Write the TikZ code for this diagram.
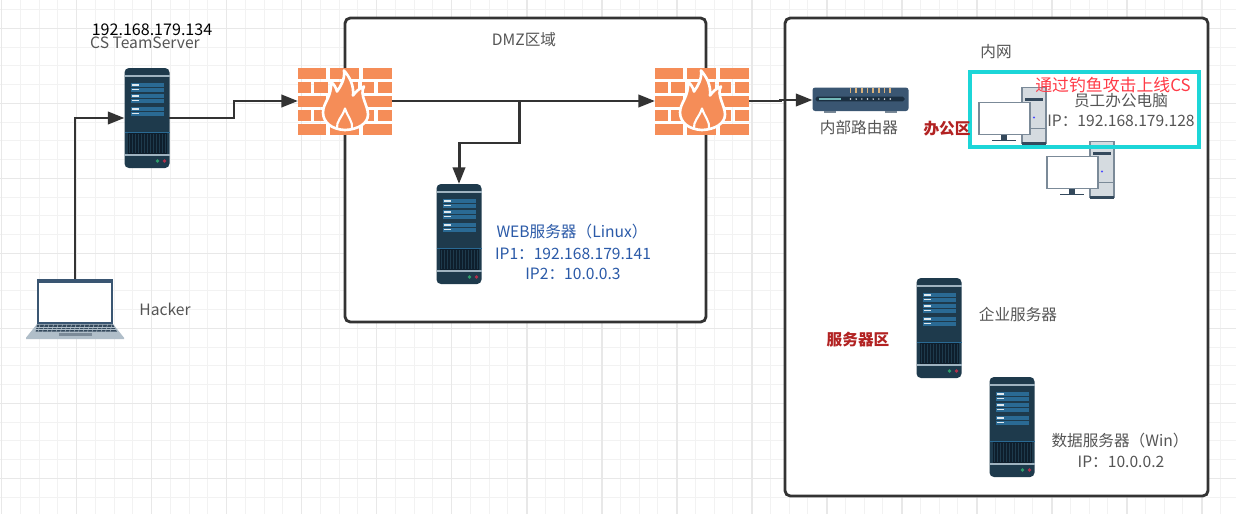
\documentclass[tikz,border=0pt]{standalone}
\usepackage{fontspec}
\usepackage{xcolor}
\usetikzlibrary{positioning}
\usetikzlibrary{arrows.meta}
\setmainfont{Noto Sans CJK SC}

\definecolor{gridmajor}{HTML}{E8E8E8}
\definecolor{gridminor}{HTML}{F2F2F2}
\definecolor{linedark}{HTML}{333333}
\definecolor{lblgray}{HTML}{555555}
\definecolor{lblblue}{HTML}{2B5AA8}
\definecolor{lblred}{HTML}{B22222}
\definecolor{hintred}{HTML}{FF3B47}
\definecolor{boxcyan}{HTML}{1CD6D8}
\definecolor{srvbody}{HTML}{1E3A4C}
\definecolor{srvstripe}{HTML}{2A6A94}
\definecolor{srvvent}{HTML}{0E1E2C}
\definecolor{srvedge}{HTML}{9FB3C0}
\definecolor{ledgreen}{HTML}{2E9E6B}
\definecolor{ledred}{HTML}{B0304A}
\definecolor{brick}{HTML}{F58D58}
\definecolor{pcgray}{HTML}{D5DBE0}
\definecolor{pcdark}{HTML}{34495C}
\definecolor{pcframe}{HTML}{7B8A98}
\definecolor{routerbody}{HTML}{3A5672}
\definecolor{routerled}{HTML}{D9B07A}
\definecolor{laptopbase}{HTML}{B0BEC9}

\tikzset{
	iconbox/.style={inner sep=0pt, outer sep=0pt},
	zonebox/.style={draw=linedark, fill=white, line width=1.6pt, rounded corners=3pt},
	conn/.style={draw=linedark, line width=1.7pt, -{Triangle[length=9.5pt,width=7pt]}},
	lbl/.style={font=\fontsize{8.9pt}{10pt}\selectfont, text=lblgray, inner sep=0pt},
	lblb/.style={lbl, text=lblblue},
	zonename/.style={font=\fontsize{8.9pt}{10pt}\selectfont\bfseries, text=lblred, inner sep=0pt},
	serverpic/.pic={
		\fill[srvbody, rounded corners=2.5pt] (0,0) rectangle (45,100);
		\draw[srvedge, line width=0.8pt] (0,8) -- (45,8) (0,87) -- (45,87);
		\draw[srvstripe, line width=0.5pt] (0,64) -- (45,64);
		\foreach \ya in {15,26,39} {
			\fill[srvstripe] (6.7,\ya) rectangle (39,\ya+9);
			\draw[white!85!srvstripe, line width=0.6pt] (7,\ya+2) -- (14,\ya+2) (7,\ya+6.5) -- (14,\ya+6.5);
			\draw[srvbody, line width=0.3pt] (6.7,\ya+4.5) -- (39,\ya+4.5);
		}
		\fill[srvvent] (3,65) rectangle (42,86);
		\foreach \xa in {5,8,...,41} {
			\draw[srvbody, line width=0.5pt] (\xa,66) -- (\xa,85);
		}
		\fill[ledgreen] (33,93) circle (1.9);
		\fill[ledred] (40,93) circle (1.9);
	},
	firewallpic/.pic={
		\foreach \ya in {0,28,56} {
			\fill[brick] (0,\ya) rectangle (28,\ya+11);
			\fill[brick] (32,\ya) rectangle (61,\ya+11);
			\fill[brick] (65,\ya) rectangle (94,\ya+11);
		}
		\foreach \ya in {14,42} {
			\fill[brick] (0,\ya) rectangle (12.5,\ya+11);
			\fill[brick] (16,\ya) rectangle (30,\ya+11);
			\fill[brick] (34,\ya) rectangle (60,\ya+11);
			\fill[brick] (64,\ya) rectangle (76,\ya+11);
			\fill[brick] (80,\ya) rectangle (94,\ya+11);
		}
		% flame with a white rim
		\draw[white, fill=brick, line width=1.5pt, line join=round]
			(47,62.5) .. controls (34,62) and (25,55) .. (25,45)
			.. controls (25,35) and (34,30) .. (33,14)
			.. controls (36,17) and (38,20) .. (39,24)
			.. controls (43,18) and (47,12) .. (46,3)
			.. controls (52,10) and (56,18) .. (55,28)
			.. controls (58,24) and (61,21) .. (66,19)
			.. controls (61,27) and (70,38) .. (70,47)
			.. controls (70,56) and (60,62) .. (47,62.5) -- cycle;
		\draw[white, line width=1.2pt, line join=round]
			(39,61) .. controls (38,54) and (44,50) .. (47,41)
			.. controls (50,50) and (55,54) .. (54,61);
	},
	pcpic/.pic={
		% tower
		\fill[pcgray] (43,0) rectangle (67,56);
		\draw[pcframe, line width=0.9pt] (43,56) -- (43,0) -- (67,0) -- (67,56);
		\fill[pcdark] (43,54.5) rectangle (67,57);
		\fill[pcdark] (46,10) rectangle (64,13);
		\draw[pcframe, line width=0.5pt] (43,41) -- (67,41);
		\fill[blue!70!white] (55,30) circle (1.1);
		% monitor
		\draw[pcframe, fill=white, line width=1pt] (0,15) rectangle (51,47);
		\fill[pcdark] (22,47.5) rectangle (28,52.5);
		\draw[pcdark, line width=0.8pt] (13,53) -- (37,53);
	},
	routerpic/.pic={
		\foreach \xa in {11,72} {
			\fill[pcframe] (\xa,23) rectangle (\xa+12,25.5);
		}
		\fill[routerbody, rounded corners=1.5pt] (0,0.5) rectangle (96,24);
		\fill[srvvent!70!routerbody, rounded corners=1pt] (3,9.7) rectangle (92,14.3);
		\draw[teal!55!white, line width=0.9pt] (6,12) -- (28,12);
		\foreach \xa in {38,43.67,...,78} {
			\draw[routerled, line width=1pt] (\xa,1) -- (\xa,6);
			\fill[white!85!gray] (\xa,12) circle (0.8);
		}
	},
	laptoppic/.pic={
		\fill[laptopbase] (11,45) -- (87,45) -- (98,58.7) -- (98,60) -- (0,60) -- (0,58.7) -- cycle;
		\fill[pcdark] (11,45.5) -- (87,45.5) -- (91,52.7) -- (9.7,52.7) -- cycle;
		\foreach \xa in {13,17.5,...,85} {
			\draw[laptopbase, line width=0.3pt] (\xa+1,45.5) -- (\xa-1,52.7);
		}
		\draw[laptopbase, line width=0.4pt] (9,48) -- (89,48) (9,50.5) -- (90,50.5);
		\fill[pcframe] (33,53.7) rectangle (66,57);
		\fill[routerbody] (11,0) rectangle (87,45);
		\fill[white] (13,4) rectangle (85,43);
	},
}

\begin{document}
\begin{tikzpicture}[x=0.02cm, y=-0.02cm]
	\useasboundingbox (0,0) rectangle (1236,514);
	\fill[white] (0,0) rectangle (1236,514);
	% grid paper
	\foreach \i in {0,...,66} {
		\draw[gridminor, line width=0.6pt] ({1.7+18.75*\i},0) -- ({1.7+18.75*\i},514);
	}
	\foreach \i in {0,...,27} {
		\draw[gridminor, line width=0.6pt] (0,{9.6+18.75*\i}) -- (1236,{9.6+18.75*\i});
	}
	\foreach \i in {0,...,16} {
		\draw[gridmajor, line width=0.9pt] ({1.7+75*\i},0) -- ({1.7+75*\i},514);
	}
	\foreach \i in {0,...,6} {
		\draw[gridmajor, line width=0.9pt] (0,{28.3+75*\i}) -- (1236,{28.3+75*\i});
	}

	% zones
	\draw[zonebox] (345,18) rectangle (706,322);
	\draw[zonebox] (785,18) rectangle (1208,496);

	% icons
	\node[iconbox, minimum width=1.96cm, minimum height=1.2cm] (laptop) at (75,309) {};
	\pic at (laptop.north west) {laptoppic};
	\node[iconbox, minimum width=0.9cm, minimum height=2cm] (teamserver) at (147,118) {};
	\pic at (teamserver.north west) {serverpic};
	\node[iconbox, minimum width=1.88cm, minimum height=1.34cm] (fwouter) at (345,101) {};
	\pic at (fwouter.north west) {firewallpic};
	\node[iconbox, minimum width=1.88cm, minimum height=1.34cm] (fwinner) at (702,101) {};
	\pic at (fwinner.north west) {firewallpic};
	\node[iconbox, minimum width=0.9cm, minimum height=2cm] (webserver) at (459,234) {};
	\pic at (webserver.north west) {serverpic};
	\node[iconbox, minimum width=1.92cm, minimum height=0.52cm] (router) at (860.5,100) {};
	\pic at (router.north west) {routerpic};
	\node[iconbox, minimum width=1.34cm, minimum height=1.14cm] (officepc) at (1012.5,116) {};
	\pic at (officepc.north west) {pcpic};
	\node[iconbox, minimum width=1.34cm, minimum height=1.14cm] (secondpc) at (1080.5,170) {};
	\pic at (secondpc.north west) {pcpic};
	\node[iconbox, minimum width=0.9cm, minimum height=2cm] (bizserver) at (939,328) {};
	\pic at (bizserver.north west) {serverpic};
	\node[iconbox, minimum width=0.9cm, minimum height=2cm] (dbserver) at (1012,427) {};
	\pic at (dbserver.north west) {serverpic};

	% connectors
	\coordinate (stepa) at (234,110);
	\coordinate (branch) at (519,101);
	\coordinate (bend) at (519,143);
	\coordinate (stepb) at (780,100);
	\draw[conn] (laptop.north) |- (teamserver.west);
	\draw[conn] (teamserver.east) -| (stepa) |- (fwouter.west);
	\draw[conn] (fwouter.east) -- (fwinner.west);
	\draw[conn] (branch) -- (bend) -| (webserver.north);
	\draw[conn] (fwinner.east) -| (stepb) |- (router.west);

	\draw[boxcyan, line width=2pt] (970,72) rectangle (1199,147);

	% labels
	\node[lbl, text=black, font=\fontsize{9.15pt}{10pt}\selectfont] (tsip) at (152,30) {192.168.179.134};
	\node[lbl] (tsname) at (145,43) {CS TeamServer};
	\node[lbl] (hackername) at (165,309) {Hacker};
	\node[lbl] (dmzname) at (524,40) {DMZ区域};
	\node[lblb] (webname) at (572,232) {WEB服务器（Linux）};
	\node[lblb] (webipa) at (573,254) {IP1：192.168.179.141};
	\node[lblb] (webipb) at (573,274) {IP2：10.0.0.3};
	\node[lbl] (lanname) at (996,52) {内网};
	\node[lbl] (routername) at (859,128) {内部路由器};
	\node[zonename] (officename) at (947,129) {办公区};
	\node[lbl, text=hintred, font=\fontsize{9.6pt}{10pt}\selectfont] (hint) at (1113,85) {通过钓鱼攻击上线CS};
	\node[lbl] (pcname) at (1121,101) {员工办公电脑};
	\node[lbl] (pcip) at (1121,121) {IP：192.168.179.128};
	\node[lbl] (bizname) at (1018,314) {企业服务器};
	\node[zonename] (servername) at (858,340) {服务器区};
	\node[lbl] (dbname) at (1120,441) {数据服务器（Win）};
	\node[lbl] (dbip) at (1121,462) {IP：10.0.0.2};
\end{tikzpicture}
\end{document}
